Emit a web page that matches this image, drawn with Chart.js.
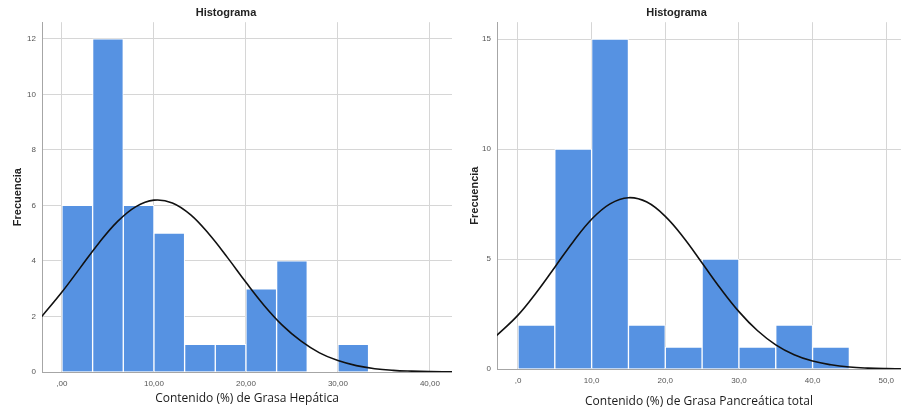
<!DOCTYPE html>
<html>
<head>
<meta charset="utf-8">
<script src="https://cdn.jsdelivr.net/npm/chart.js@4.4.1/dist/chart.umd.min.js"></script>
<style>
  body { margin: 0; background: #fff; }
  #wrap { position: relative; width: 901px; height: 412px; }
  canvas { position: absolute; top: 0; }
  #hepatica { left: 0; }
  #pancreas { left: 452px; }
</style>
</head>
<body>
<div id="wrap">
  <canvas id="hepatica" width="452" height="412"></canvas>
  <canvas id="pancreas" width="449" height="412"></canvas>
</div>
<script>
// --- Grasa Hepática ---
const hepBinStart = [0, 3.333, 6.667, 10, 13.333, 16.667, 20, 23.333, 26.667, 30];
const hepBinWidth = 3.333;
const hepCounts = [6, 12, 6, 5, 1, 1, 3, 4, 0, 1];
// normal curve
const hepCurveX = [-2.2, 0, 2, 4, 6, 8, 10, 12, 14, 16, 18, 20, 22, 24, 26, 28, 30, 32, 34, 36, 38, 40, 42, 43];
const hepCurveY = [2.0, 2.88, 3.76, 4.64, 5.41, 5.95, 6.19, 6.09, 5.66, 4.96, 4.12, 3.23, 2.39, 1.67, 1.11, 0.69, 0.41, 0.23, 0.12, 0.06, 0.03, 0.012, 0.005, 0.003];
const hepXTicks = [0, 10, 20, 30, 40];
const hepXLabels = [',00', '10,00', '20,00', '30,00', '40,00'];

// --- Grasa Pancreática total ---
const panBinStart = [0, 5, 10, 15, 20, 25, 30, 35, 40];
const panBinWidth = 5;
const panCounts = [2, 10, 15, 2, 1, 5, 1, 2, 1];
const panCurveX = [-3, 0, 2.5, 5, 7.5, 10, 12.5, 15, 17.5, 20, 22.5, 25, 27.5, 30, 32.5, 35, 37.5, 40, 42.5, 45, 47.5, 50, 52.5];
const panCurveY = [1.49, 2.45, 3.48, 4.63, 5.79, 6.81, 7.51, 7.79, 7.59, 6.94, 5.97, 4.82, 3.66, 2.61, 1.75, 1.10, 0.65, 0.36, 0.19, 0.09, 0.042, 0.018, 0.007];
const panXTicks = [0, 10, 20, 30, 40, 50];
const panXLabels = [',0', '10,0', '20,0', '30,0', '40,0', '50,0'];

const tickFont = { family: 'Liberation Sans', size: 8 };
const gridColor = '#d6d6d6';

function makeHistogram(canvasId, o) {
  const bars = o.starts.map((s, i) => ({ x: s + o.width / 2, y: o.counts[i] }));
  const curve = o.curveX.map((x, i) => ({ x: x, y: o.curveY[i] }));

  return new Chart(document.getElementById(canvasId), {
    type: 'bar',
    data: {
      datasets: [
        {
          type: 'line',
          data: curve,
          borderColor: '#111',
          borderWidth: 1.6,
          pointRadius: 0,
          tension: 0.4,
          fill: false,
          order: 0,
        },
        {
          type: 'bar',
          data: bars,
          backgroundColor: '#5692e2',
          borderColor: '#ffffff',
          borderWidth: 1,
          borderSkipped: 'bottom',
          barPercentage: 1,
          categoryPercentage: 1,
          order: 1,
        },
      ],
    },
    options: {
      responsive: false,
      animation: false,
      layout: { padding: 0 },
      plugins: {
        legend: { display: false },
        tooltip: { enabled: false },
        title: {
          display: true,
          text: 'Histograma',
          color: '#222',
          font: { family: 'Liberation Sans', size: 11, weight: 'bold' },
          padding: { top: 6, bottom: 3 },
        },
      },
      scales: {
        x: {
          type: 'linear',
          offset: false,
          min: o.xMin,
          max: o.xMax,
          afterFit: scale => { scale.height = o.xAxisHeight; },
          grid: { color: gridColor, drawTicks: false, offset: false },
          border: { color: '#a6a6a6', width: 1 },
          ticks: {
            stepSize: 10,
            includeBounds: false,
            padding: 7,
            maxRotation: 0,
            color: '#555',
            font: tickFont,
            callback: v => o.xLabels[o.xTicks.indexOf(v)],
          },
          title: {
            display: true,
            text: o.xTitle,
            color: '#1a1a1a',
            font: { family: 'Open Sans', size: 12 },
            padding: { top: 0, bottom: o.xTitlePad },
          },
        },
        y: {
          min: 0,
          max: o.yMax,
          afterFit: scale => { scale.width = o.yAxisWidth; },
          grid: { color: gridColor, drawTicks: false },
          border: { color: '#a6a6a6', width: 1 },
          ticks: {
            stepSize: o.yStep,
            includeBounds: false,
            padding: 6,
            color: '#555',
            font: tickFont,
          },
          title: {
            display: true,
            text: 'Frecuencia',
            color: '#222',
            font: { family: 'Liberation Sans', size: 11, weight: 'bold' },
            padding: { top: o.yTitlePad, bottom: 0 },
          },
        },
      },
    },
  });
}

makeHistogram('hepatica', {
  starts: hepBinStart, width: hepBinWidth, counts: hepCounts,
  curveX: hepCurveX, curveY: hepCurveY,
  xTicks: hepXTicks, xLabels: hepXLabels,
  xMin: -2.17, xMax: 42.4, yMax: 12.6, yStep: 2,
  xTitle: 'Contenido (%) de Grasa Hepática',
  xAxisHeight: 40, yAxisWidth: 42, xTitlePad: 6, yTitlePad: 11,
});

makeHistogram('pancreas', {
  starts: panBinStart, width: panBinWidth, counts: panCounts,
  curveX: panCurveX, curveY: panCurveY,
  xTicks: panXTicks, xLabels: panXLabels,
  xMin: -2.85, xMax: 52, yMax: 15.77, yStep: 5,
  xTitle: 'Contenido (%) de Grasa Pancreática total',
  xAxisHeight: 43, yAxisWidth: 45, xTitlePad: 3, yTitlePad: 16,
});
</script>
</body>
</html>
